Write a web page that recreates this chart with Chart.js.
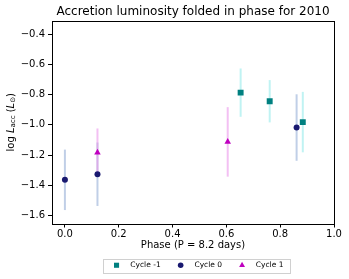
<!DOCTYPE html>
<html><head><meta charset="utf-8">
<script src="https://cdn.jsdelivr.net/npm/chart.js@4"></script>
<style>html,body{margin:0;padding:0;background:#fff}canvas{display:block}</style>
</head><body>
<canvas id="c" width="349" height="279"></canvas>
<script>
const titleText = "Accretion luminosity folded in phase for 2010";
const xTitle = "Phase (P = 8.2 days)";
const xTicks = [0.0, 0.2, 0.4, 0.6, 0.8, 1.0];
const yTicks = [-0.4, -0.6, -0.8, -1.0, -1.2, -1.4, -1.6];
const seriesNames = ["Cycle -1", "Cycle 0", "Cycle 1"];
const cycleM1Phase = [0.653, 0.761, 0.884];
const cycleM1Val = [-0.787, -0.844, -0.982];
const cycleM1Err = [0.16, 0.14, 0.20];
const cycle0Phase = [0.0, 0.121, 0.861];
const cycle0Val = [-1.364, -1.327, -1.018];
const cycle0Err = [0.20, 0.21, 0.22];
const cycle1Phase = [0.121, 0.605];
const cycle1Val = [-1.184, -1.113];
const cycle1Err = [0.16, 0.23];

const FONT = "'DejaVu Sans', sans-serif";
const fmt = v => (v < 0 ? "\u2212" : "") + Math.abs(v).toFixed(1);
const pts = (xs, ys) => xs.map((x, i) => ({x: x, y: ys[i]}));

const errColors = ["rgba(150,235,235,0.6)", "rgba(150,175,215,0.6)", "rgba(235,150,235,0.6)"];
const errs = [cycleM1Err, cycle0Err, cycle1Err];
const legendRadius = [3.6, 2.8, 3.4];

const errorBars = {
  id: 'errorBars',
  beforeDatasetsDraw(chart) {
    const ctx = chart.ctx, xs = chart.scales.x, ys = chart.scales.y;
    ctx.save();
    chart.data.datasets.forEach((ds, di) => {
      ctx.strokeStyle = errColors[di];
      ctx.lineWidth = 2;
      ds.data.forEach((p, i) => {
        const e = errs[di][i];
        const px = xs.getPixelForValue(p.x);
        ctx.beginPath();
        ctx.moveTo(px, ys.getPixelForValue(p.y + e));
        ctx.lineTo(px, ys.getPixelForValue(p.y - e));
        ctx.stroke();
      });
    });
    ctx.restore();
  }
};

const legendShift = {
  id: 'legendShift',
  afterLayout(chart) {
    const lg = chart.legend, a = chart.chartArea;
    if (!lg) return;
    const dx = (a.left + a.right) / 2 - (lg.left + lg.right) / 2 + 2;
    lg.left += dx; lg.right += dx;
    if (lg.legendHitBoxes) lg.legendHitBoxes.forEach(h => { h.left += dx; });
  }
};

const frame = {
  id: 'frame',
  afterDraw(chart) {
    const ctx = chart.ctx, a = chart.chartArea;
    ctx.save();
    ctx.strokeStyle = '#000';
    ctx.lineWidth = 1;
    ctx.strokeRect(Math.round(a.left) + 0.5, Math.round(a.top) + 0.5, Math.round(a.right - a.left), Math.round(a.bottom - a.top));
    // title
    ctx.fillStyle = '#000';
    ctx.font = "12px " + FONT;
    ctx.textAlign = 'center';
    ctx.textBaseline = 'middle';
    ctx.fillText(titleText, (a.left + a.right) / 2, 12);
    // y title with italic + subscript
    ctx.translate(11, (a.top + a.bottom) / 2);
    ctx.rotate(-Math.PI / 2);
    const parts = [
      {t: "log ", f: "10px " + FONT, dy: 0},
      {t: "L", f: "italic 10px " + FONT, dy: 0},
      {t: "acc", f: "7px " + FONT, dy: 2.5},
      {t: " (", f: "10px " + FONT, dy: 0},
      {t: "L", f: "italic 10px " + FONT, dy: 0},
      {t: "\u2299", f: "7px " + FONT, dy: 2.5},
      {t: ")", f: "10px " + FONT, dy: 0}
    ];
    let total = 0;
    parts.forEach(p => { ctx.font = p.f; p.w = ctx.measureText(p.t).width; total += p.w; });
    let x = -total / 2;
    ctx.textAlign = 'left';
    parts.forEach(p => { ctx.font = p.f; ctx.fillText(p.t, x, p.dy); x += p.w; });
    ctx.restore();
    // legend markers + box
    const lg = chart.legend;
    if (lg && lg.legendHitBoxes && lg.legendHitBoxes.length) {
      const hb = lg.legendHitBoxes;
      const bw = lg.options.labels.boxWidth;
      ctx.save();
      hb.forEach((h, i) => {
        const ds = chart.data.datasets[i];
        ctx.fillStyle = ds.backgroundColor;
        ctx.strokeStyle = ds.backgroundColor;
        Chart.helpers.drawPoint(ctx, {pointStyle: ds.pointStyle, radius: legendRadius[i], borderWidth: 0, rotation: 0}, h.left + bw / 2, h.top + h.height / 2);
      });
      const l = hb[0].left - 4, r = hb[hb.length - 1].left + hb[hb.length - 1].width + 6;
      const t = hb[0].top - 3, b = hb[0].top + hb[0].height + 3;
      ctx.strokeStyle = '#d0d0d0';
      ctx.lineWidth = 1;
      ctx.strokeRect(Math.round(l) + 0.5, Math.round(t) + 0.5, Math.round(r - l), Math.round(b - t));
      ctx.restore();
    }
  }
};

new Chart(document.getElementById('c'), {
  type: 'scatter',
  data: {
    datasets: [
      {label: seriesNames[0], data: pts(cycleM1Phase, cycleM1Val), pointStyle: 'rect', pointRadius: 4.2, backgroundColor: '#008080', borderColor: '#008080', borderWidth: 0},
      {label: seriesNames[1], data: pts(cycle0Phase, cycle0Val), pointStyle: 'circle', pointRadius: 3, backgroundColor: '#191970', borderColor: '#191970', borderWidth: 0},
      {label: seriesNames[2], data: pts(cycle1Phase, cycle1Val), pointStyle: 'triangle', pointRadius: 3.8, backgroundColor: '#bf00bf', borderColor: '#bf00bf', borderWidth: 0}
    ]
  },
  options: {
    responsive: false,
    animation: false,
    devicePixelRatio: 1,
    layout: {padding: {top: 21, left: 0, right: 15, bottom: 0}},
    plugins: {
      title: {display: false},
      tooltip: {enabled: false},
      legend: {
        position: 'bottom',
        labels: {
          usePointStyle: false,
          boxWidth: 20, boxHeight: 6,
          padding: 10,
          color: '#000',
          font: {family: FONT, size: 7.5},
          generateLabels: chart => chart.data.datasets.map((ds, i) => ({
            text: ds.label, fillStyle: 'rgba(0,0,0,0)', strokeStyle: 'rgba(0,0,0,0)', lineWidth: 0, datasetIndex: i, hidden: false, fontColor: '#000'
          }))
        }
      }
    },
    scales: {
      x: {
        type: 'linear', min: -0.048, max: 1.0,
        afterBuildTicks: s => { s.ticks = xTicks.map(v => ({value: v})); },
        afterFit: s => { s.height = 28; },
        ticks: {color: '#000', font: {family: FONT, size: 10}, padding: 1, maxRotation: 0, callback: v => v.toFixed(1)},
        grid: {drawOnChartArea: false, color: '#000', tickLength: 4, tickColor: '#000'},
        border: {display: false},
        title: {display: true, text: xTitle, color: '#000', font: {family: FONT, size: 10}, padding: {top: -4, bottom: 0}}
      },
      y: {
        type: 'linear', min: -1.653, max: -0.313,
        afterBuildTicks: s => { s.ticks = yTicks.map(v => ({value: v})); },
        afterFit: s => { s.width = 52; },
        ticks: {color: '#000', font: {family: FONT, size: 10}, padding: 3, callback: v => fmt(v)},
        grid: {drawOnChartArea: false, color: '#000', tickLength: 4, tickColor: '#000'},
        border: {display: false}
      }
    }
  },
  plugins: [errorBars, legendShift, frame]
});
</script>
</body></html>
